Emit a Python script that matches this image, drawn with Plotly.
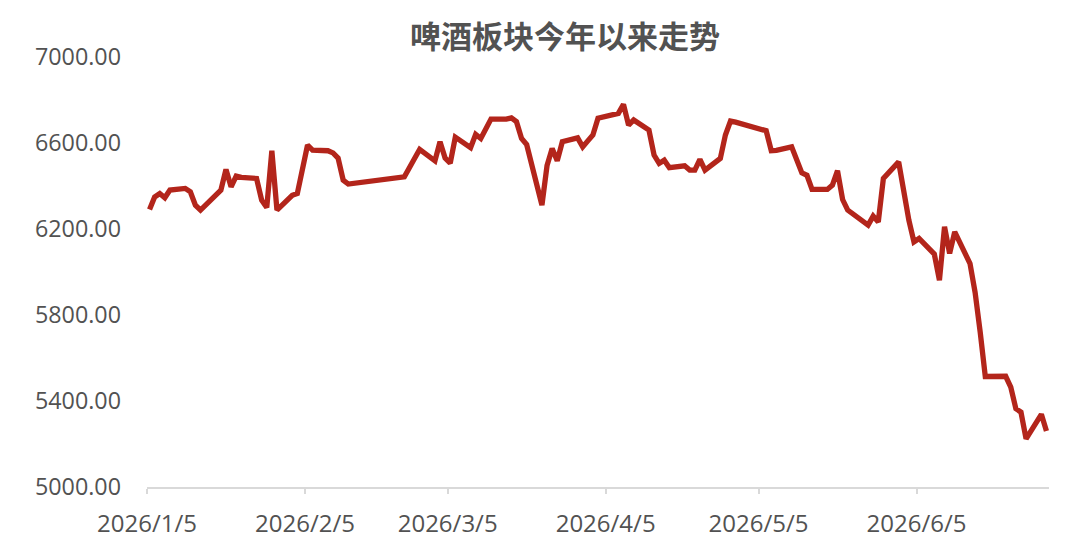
# %% 啤酒板块今年以来走势 - line chart

import plotly.graph_objects as go


# %% Data

dates = [
    "2026-01-05", "2026-01-06", "2026-01-07", "2026-01-08", "2026-01-09",
    "2026-01-12", "2026-01-13", "2026-01-14", "2026-01-15", "2026-01-19",
    "2026-01-20", "2026-01-21", "2026-01-22", "2026-01-23", "2026-01-26",
    "2026-01-27", "2026-01-28", "2026-01-29", "2026-01-30", "2026-02-02",
    "2026-02-03", "2026-02-05", "2026-02-06", "2026-02-09", "2026-02-10",
    "2026-02-11", "2026-02-12", "2026-02-13", "2026-02-24", "2026-02-25",
    "2026-02-26", "2026-02-27", "2026-03-02", "2026-03-03", "2026-03-04",
    "2026-03-05", "2026-03-06", "2026-03-09", "2026-03-10", "2026-03-11",
    "2026-03-13", "2026-03-16", "2026-03-17", "2026-03-18", "2026-03-19",
    "2026-03-20", "2026-03-23", "2026-03-24", "2026-03-25", "2026-03-26",
    "2026-03-27", "2026-03-30", "2026-03-31", "2026-04-01", "2026-04-02",
    "2026-04-03", "2026-04-07", "2026-04-08", "2026-04-09", "2026-04-10",
    "2026-04-13", "2026-04-14", "2026-04-15", "2026-04-16", "2026-04-17",
    "2026-04-20", "2026-04-21", "2026-04-22", "2026-04-23", "2026-04-24",
    "2026-04-27", "2026-04-28", "2026-04-29", "2026-04-30", "2026-05-06",
    "2026-05-07", "2026-05-08", "2026-05-11", "2026-05-12", "2026-05-13",
    "2026-05-14", "2026-05-15", "2026-05-18", "2026-05-19", "2026-05-20",
    "2026-05-21", "2026-05-22", "2026-05-25", "2026-05-26", "2026-05-27",
    "2026-05-28", "2026-05-29", "2026-06-01", "2026-06-03", "2026-06-04",
    "2026-06-05", "2026-06-08", "2026-06-09", "2026-06-10", "2026-06-11",
    "2026-06-12", "2026-06-15", "2026-06-16", "2026-06-17", "2026-06-18",
    "2026-06-22", "2026-06-23", "2026-06-24", "2026-06-25", "2026-06-26",
    "2026-06-29", "2026-06-30",
]

index_values = [
    6291, 6349, 6365, 6345, 6381,
    6389, 6373, 6311, 6288, 6381,
    6477, 6396, 6446, 6440, 6435,
    6334, 6300, 6564, 6288, 6357,
    6365, 6590, 6567, 6564, 6554,
    6530, 6427, 6409, 6443, 6490,
    6528, 6570, 6517, 6606, 6530,
    6506, 6627, 6578, 6640, 6621,
    6711, 6711, 6717, 6699, 6621,
    6593, 6311, 6495, 6575, 6517,
    6606, 6624, 6582, 6610, 6637,
    6715, 6738, 6780, 6683, 6707,
    6660, 6544, 6505, 6520, 6485,
    6494, 6474, 6474, 6524, 6474,
    6528, 6637, 6702, 6697, 6657,
    6564, 6566, 6582, 6528, 6461,
    6450, 6384, 6384, 6404, 6471,
    6337, 6288, 6236, 6218, 6260,
    6233, 6435, 6512, 6241, 6140,
    6156, 6083, 5962, 6210, 6086,
    6187, 6039, 5905, 5720, 5514,
    5515, 5465, 5364, 5348, 5224,
    5338, 5260,
]

tick_dates = ["2026-01-05", "2026-02-05", "2026-03-05", "2026-04-05", "2026-05-05", "2026-06-05"]
tick_labels = ["2026/1/5", "2026/2/5", "2026/3/5", "2026/4/5", "2026/5/5", "2026/6/5"]

y_ticks = [5000, 5400, 5800, 6200, 6600, 7000]

title_text = "啤酒板块今年以来走势"


# %% Figure
# the page body has an 8px margin, so everything is placed 8px up/left

line_color = "#B3251B"
text_color = "#525252"

fig = go.Figure()
fig.add_trace(go.Scatter(
    x=dates,
    y=index_values,
    mode="lines",
    line={"color": line_color, "width": 5.3},
    xperiod=86400000,
    xperiodalignment="middle",
    showlegend=False,
    hoverinfo="x+y",
))

fig.update_layout(
    width=1080,
    height=549,
    paper_bgcolor="white",
    plot_bgcolor="white",
    margin={"l": 139, "r": 39, "t": 49, "b": 70},
    title={
        "text": f"<b>{title_text}</b>",
        "x": 557 / 1080,
        "xanchor": "center",
        "y": 1 - 29 / 549,
        "yanchor": "middle",
        "font": {"family": "Noto Sans CJK SC", "size": 31, "color": text_color},
    },
    xaxis={
        "type": "date",
        "automargin": False,
        "range": ["2026-01-05", "2026-07-01"],
        "tickvals": tick_dates,
        "ticktext": tick_labels,
        "showgrid": False,
        "zeroline": False,
        "showline": True,
        "linecolor": "#d9d9d9",
        "linewidth": 1.5,
        "ticks": "outside",
        "ticklen": 5,
        "tickcolor": "#d9d9d9",
        "tickwidth": 1.5,
        "ticklabelstandoff": 9,
        "tickfont": {"family": "Open Sans", "size": 24, "color": text_color},
    },
    yaxis={
        "automargin": False,
        "range": [5000, 7000],
        "tickvals": y_ticks,
        "tickformat": ".2f",
        "showgrid": False,
        "zeroline": False,
        "showline": False,
        "ticks": "",
        "ticklabelstandoff": 25,
        "tickfont": {"family": "Open Sans", "size": 23.3, "color": text_color},
    },
)

fig.write_html("out.html")
